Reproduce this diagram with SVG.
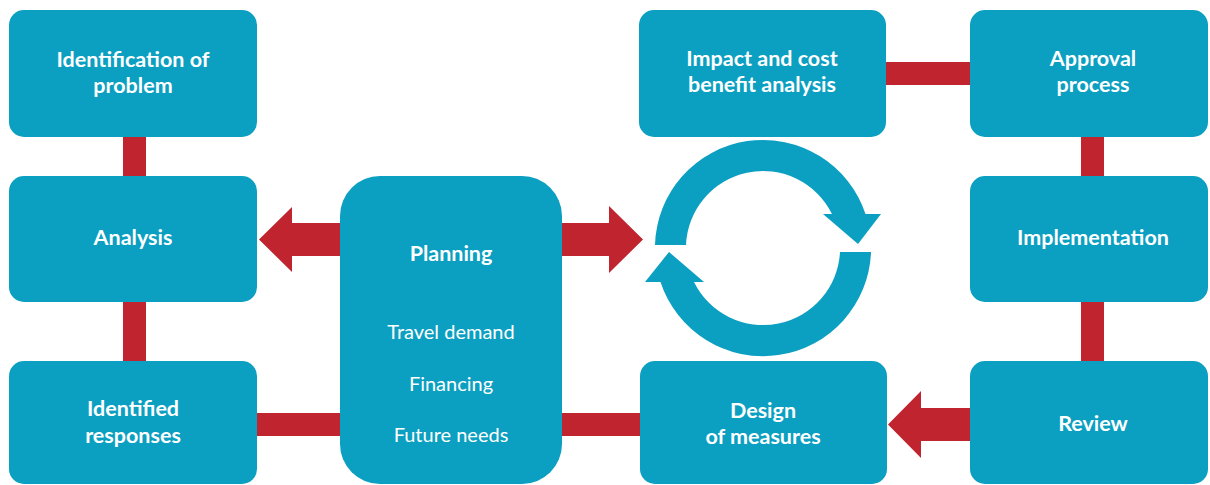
<svg xmlns="http://www.w3.org/2000/svg" width="1210" height="485" viewBox="0 0 1210 485">
  <style>
    .box { fill: #0b9fc1; }
    .link { fill: #c0242f; }
    .cyc { fill: #0b9fc1; }
    .t { font-family: Lato, "Open Sans", "Liberation Sans", sans-serif; font-size: 20px; fill: #ffffff; text-anchor: middle; }
    .b { font-weight: bold; font-size: 21.5px; }
  </style>

  <!-- connectors: bars and block arrows -->
  <g id="connectors">
    <rect class="link" x="123" y="130" width="23" height="55"/>
    <rect class="link" x="123" y="295" width="23" height="75"/>
    <rect class="link" x="250" y="413" width="95" height="23"/>
    <rect class="link" x="555" y="413" width="90" height="23"/>
    <rect class="link" x="880" y="62" width="95" height="23"/>
    <rect class="link" x="1081" y="130" width="23" height="55"/>
    <rect class="link" x="1081" y="295" width="23" height="75"/>
    <!-- Planning -> Analysis -->
    <polygon class="link" points="345,223 292,223 292,207 259,239.5 292,272 292,256 345,256"/>
    <!-- Planning -> cycle -->
    <polygon class="link" points="557,223 609,223 609,206 643,239.5 609,273 609,256 557,256"/>
    <!-- Review -> Design of measures -->
    <polygon class="link" points="975,408 921,408 921,391 888,424.5 921,458 921,441 975,441"/>
  </g>

  <!-- circular process symbol -->
  <g id="cycle">
    <path class="cyc" d="M655,245 A108,108 0 0 1 865.5,214 L832,214 A77,77 0 0 0 686,245 Z"/>
    <polygon class="cyc" points="823,214 881,214 858,244"/>
    <path class="cyc" d="M871,252 A108,108 0 0 1 660.5,282 L694,282 A77,77 0 0 0 840,252 Z"/>
    <polygon class="cyc" points="645,282 704,282 669,252"/>
  </g>

  <g id="identification">
    <rect class="box" x="9" y="10" width="248" height="127" rx="15"/>
    <text class="t b" x="133" y="67">Identification of</text>
    <text class="t b" x="133" y="93">problem</text>
  </g>

  <g id="analysis">
    <rect class="box" x="9" y="176" width="248" height="126" rx="15"/>
    <text class="t b" x="133" y="245">Analysis</text>
  </g>

  <g id="responses">
    <rect class="box" x="9" y="361" width="248" height="123" rx="15"/>
    <text class="t b" x="133" y="416">Identified</text>
    <text class="t b" x="133" y="443">responses</text>
  </g>

  <g id="planning">
    <rect class="box" x="340" y="176" width="222" height="308" rx="40"/>
    <text class="t b" x="451" y="261">Planning</text>
    <text class="t" x="451" y="339">Travel demand</text>
    <text class="t" x="451" y="391">Financing</text>
    <text class="t" x="451" y="442">Future needs</text>
  </g>

  <g id="impact">
    <rect class="box" x="639" y="10" width="247" height="127" rx="15"/>
    <text class="t b" x="762" y="66">Impact and cost</text>
    <text class="t b" x="762" y="92">benefit analysis</text>
  </g>

  <g id="design">
    <rect class="box" x="640" y="361" width="247" height="123" rx="15"/>
    <text class="t b" x="763" y="418">Design</text>
    <text class="t b" x="763" y="444">of measures</text>
  </g>

  <g id="approval">
    <rect class="box" x="970" y="10" width="238" height="127" rx="15"/>
    <text class="t b" x="1093" y="66">Approval</text>
    <text class="t b" x="1093" y="92">process</text>
  </g>

  <g id="implementation">
    <rect class="box" x="970" y="176" width="238" height="126" rx="15"/>
    <text class="t b" x="1093" y="245">Implementation</text>
  </g>

  <g id="review">
    <rect class="box" x="970" y="361" width="238" height="123" rx="15"/>
    <text class="t b" x="1093" y="431">Review</text>
  </g>
</svg>
